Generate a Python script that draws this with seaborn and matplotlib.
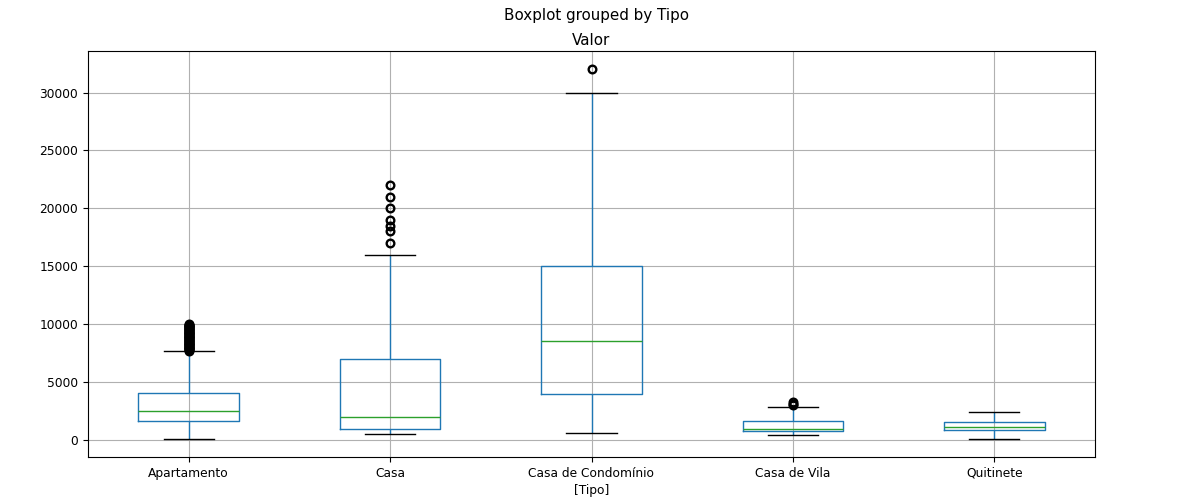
import matplotlib
matplotlib.use("Agg")
import matplotlib.pyplot as plt
import seaborn as sns
import pandas as pd

# Categories and box statistics
tipos = ["Apartamento", "Casa", "Casa de Condomínio", "Casa de Vila", "Quitinete"]
whisker_low = [100, 450, 600, 430, 100]
q1 = [1650, 950, 3950, 720, 880]
median = [2500, 1950, 8500, 925, 1100]
q3 = [4050, 7000, 15000, 1600, 1500]
whisker_high = [7600, 16000, 30000, 2800, 2400]
outliers = [
    [7650, 7700, 7750, 7800, 7850, 7900, 7950, 8000, 8050, 8100, 8150, 8200,
     8250, 8300, 8350, 8400, 8450, 8500, 8550, 8600, 8650, 8700, 8750, 8800,
     8850, 8900, 8950, 9000, 9050, 9100, 9150, 9200, 9250, 9300, 9350, 9400,
     9450, 9500, 9550, 9600, 9650, 9700, 9750, 9800, 9850, 9900, 9950, 10000],
    [17000, 18000, 18500, 19000, 20000, 21000, 22000],
    [32000],
    [3000, 3100, 3250],
    [],
]


def sample(lo, a, m, b, hi, out):
    """Small sample whose quartiles / whiskers reproduce the read statistics."""
    k = len(out)
    r = k + 4
    c = k + 1
    return [lo] + [a] * r + [m] * c + [b] * r + [hi] + list(out)


rows = []
for i, t in enumerate(tipos):
    for v in sample(whisker_low[i], q1[i], median[i], q3[i], whisker_high[i], outliers[i]):
        rows.append((t, v))
df = pd.DataFrame(rows, columns=["Tipo", "Valor"])

fig = plt.figure(figsize=(11.93, 5.03), dpi=100)
ax = fig.add_axes([88 / 1193, 1 - 457 / 503, (1095 - 88) / 1193, (457 - 51) / 503])

sns.boxplot(
    data=df, x="Tipo", y="Valor", order=tipos, ax=ax,
    fill=False, color="C0", width=0.5, linewidth=1.0,
    boxprops={"color": "C0"},
    whiskerprops={"color": "C0"},
    capprops={"color": "black"},
    medianprops={"color": "C2"},
    flierprops={"marker": "o", "markerfacecolor": "none",
                "markeredgecolor": "black", "markersize": 5.5,
                "markeredgewidth": 1.7},
)

ax.grid(True, color="#b0b0b0", linewidth=0.8)
ax.set_axisbelow(True)
ax.tick_params(labelsize=8.8)
ax.set_xlabel("[Tipo]", fontsize=8.8, labelpad=3)
ax.set_ylabel("")
ax.set_title("Valor", fontsize=10.9, pad=4)
fig.suptitle("Boxplot grouped by Tipo", fontsize=10.9, y=0.985)

fig.savefig("out.png", dpi=100)
